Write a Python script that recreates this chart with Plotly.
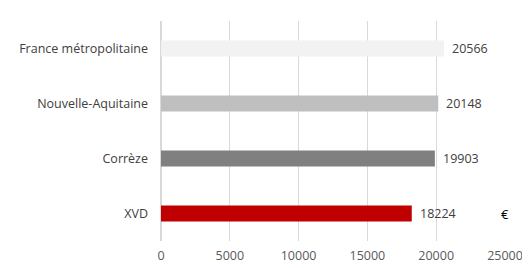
import plotly.graph_objects as go

categories = ["France métropolitaine", "Nouvelle-Aquitaine", "Corrèze", "XVD"]
values = [20566, 20148, 19903, 18224]
colors = ["#f2f2f2", "#bfbfbf", "#808080", "#c00000"]
tick_vals = [0, 5000, 10000, 15000, 20000, 25000]

FONT = "Open Sans, sans-serif"

fig = go.Figure()
fig.add_trace(go.Bar(
    y=categories, x=values, orientation="h",
    marker=dict(color=colors, line=dict(width=0)),
    width=0.29,
    hoverinfo="skip",
))

for c, v in zip(categories, values):
    fig.add_annotation(x=v, y=c, text=str(v), showarrow=False, xanchor="left",
                       xshift=6, font=dict(family=FONT, size=12.5, color="#404040"))

fig.add_annotation(x=25000, y="XVD", text="€", showarrow=False, xanchor="center",
                   font=dict(family=FONT, size=13, color="#000000"))

fig.update_layout(
    width=522, height=260,
    margin=dict(l=153, r=25, t=13, b=27),
    paper_bgcolor="white", plot_bgcolor="white",
    showlegend=False,
    font=dict(family=FONT, size=12.5, color="#595959"),
)
fig.update_xaxes(range=[0, 25000], tickvals=tick_vals, ticktext=[str(t) for t in tick_vals],
                 showgrid=True, gridcolor="#d9d9d9", gridwidth=1, zeroline=True,
                 zerolinecolor="#d9d9d9", showline=False, ticks="", ticklabelstandoff=5,
                 automargin=False,
                 tickfont=dict(family=FONT, size=12.5, color="#595959"), fixedrange=True)
fig.update_yaxes(categoryorder="array", categoryarray=categories[::-1],
                 showgrid=False, showline=False, ticks="", ticklabelstandoff=12,
                 automargin=False,
                 tickfont=dict(family=FONT, size=12.5, color="#404040"), fixedrange=True)

fig.write_html("out.html", config={"displayModeBar": False})
